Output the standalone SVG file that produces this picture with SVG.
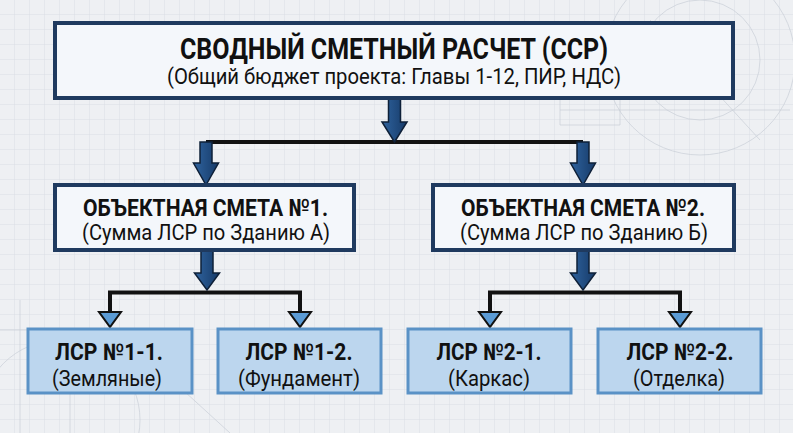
<svg xmlns="http://www.w3.org/2000/svg" width="793" height="433" viewBox="0 0 793 433">
<defs>
<pattern id="grid" width="15" height="15" patternUnits="userSpaceOnUse">
<path d="M15 0 V15 M0 15 H15" fill="none" stroke="#dadee4" stroke-width="1"/>
</pattern>
<linearGradient id="ag" x1="0" y1="0" x2="1" y2="0">
<stop offset="0" stop-color="#2f639e"/>
<stop offset="1" stop-color="#163a68"/>
</linearGradient>
<style>
.bg{fill:#eef0f3}
.main{fill:#f4f7fb;stroke:#1f3a5f;stroke-width:4}
.leaf{fill:#bcd6ee;stroke:#5a92c6;stroke-width:3}
.big{fill:url(#ag);stroke:#0e2038;stroke-width:1.5;stroke-linejoin:miter}
.line{fill:none;stroke:#111;stroke-width:4;stroke-linejoin:miter}
.tri{fill:#5b9bd5;stroke:#111;stroke-width:2;stroke-linejoin:miter}
.deco{fill:none;stroke:#c9cfd7;stroke-width:1;opacity:0.7}
text{font-family:Roboto,"Noto Sans","DejaVu Sans",sans-serif;fill:#111;text-anchor:middle}
.h1{font-size:29px;font-weight:700}
.h2{font-size:22px;font-weight:400}
.m1{font-size:24px;font-weight:700}
.m2{font-size:22px;font-weight:400}
.l1{font-size:23px;font-weight:700}
.l2{font-size:22px;font-weight:400}
</style>
</defs>
<rect class="bg" x="0" y="0" width="793" height="433"/>
<rect x="0" y="0" width="793" height="433" fill="url(#grid)"/>
<g id="decor">
<circle class="deco" cx="700" cy="60" r="95"/>
<circle class="deco" cx="700" cy="60" r="60"/>
<path class="deco" d="M560 110 H790 M560 95 V125 H620 V95 M650 20 L760 140"/>
<circle class="deco" cx="60" cy="420" r="80"/>
<path class="deco" d="M0 330 H130 M20 300 V433 M70 340 V433 M150 360 L230 433"/>
</g>
<g id="connectors">
<path class="line" d="M206 142 H583"/>
<path class="line" d="M110 312 V292.5 H300 V312"/>
<path class="line" d="M490 312 V292.5 H680 V312"/>
<path class="big" d="M388.5 98 H400.5 V122 H407 L394.5 142 L382 122 H388.5 Z"/>
<path class="big" d="M200 142 H212 V163 H218.5 L206 185 L193.5 163 H200 Z"/>
<path class="big" d="M577 142 H589 V163 H595.5 L583 185 L570.5 163 H577 Z"/>
<path class="big" d="M201 250 H213 V273 H219.5 L207 290 L194.5 273 H201 Z"/>
<path class="big" d="M577 250 H589 V273 H595.5 L583 290 L570.5 273 H577 Z"/>
<path class="tri" d="M99 312 H121 L110 327 Z"/>
<path class="tri" d="M289 312 H311 L300 327 Z"/>
<path class="tri" d="M479 312 H501 L490 327 Z"/>
<path class="tri" d="M669 312 H691 L680 327 Z"/>
</g>
<g id="ssr">
<rect class="main" x="55" y="23" width="678" height="75"/>
<text class="h1" x="394" y="59" textLength="428" lengthAdjust="spacingAndGlyphs">СВОДНЫЙ СМЕТНЫЙ РАСЧЕТ (ССР)</text>
<text class="h2" x="394" y="84" textLength="454" lengthAdjust="spacingAndGlyphs">(Общий бюджет проекта: Главы 1-12, ПИР, НДС)</text>
</g>
<g id="os1">
<rect class="main" x="55" y="185" width="299" height="65"/>
<text class="m1" x="205.5" y="216" textLength="245" lengthAdjust="spacingAndGlyphs">ОБЪЕКТНАЯ СМЕТА №1.</text>
<text class="m2" x="206" y="240" textLength="248" lengthAdjust="spacingAndGlyphs">(Сумма ЛСР по Зданию А)</text>
</g>
<g id="os2">
<rect class="main" x="433" y="185" width="301" height="65"/>
<text class="m1" x="583" y="216" textLength="244" lengthAdjust="spacingAndGlyphs">ОБЪЕКТНАЯ СМЕТА №2.</text>
<text class="m2" x="584" y="240" textLength="248" lengthAdjust="spacingAndGlyphs">(Сумма ЛСР по Зданию Б)</text>
</g>
<g id="lsr11">
<rect class="leaf" x="28" y="329" width="164" height="64"/>
<text class="l1" x="109" y="360" textLength="108" lengthAdjust="spacingAndGlyphs">ЛСР №1-1.</text>
<text class="l2" x="107" y="386" textLength="110" lengthAdjust="spacingAndGlyphs">(Земляные)</text>
</g>
<g id="lsr12">
<rect class="leaf" x="218" y="329" width="163" height="64"/>
<text class="l1" x="299" y="360" textLength="107" lengthAdjust="spacingAndGlyphs">ЛСР №1-2.</text>
<text class="l2" x="299" y="386" textLength="122" lengthAdjust="spacingAndGlyphs">(Фундамент)</text>
</g>
<g id="lsr21">
<rect class="leaf" x="408" y="329" width="163" height="64"/>
<text class="l1" x="489" y="360" textLength="105" lengthAdjust="spacingAndGlyphs">ЛСР №2-1.</text>
<text class="l2" x="489" y="386" textLength="82" lengthAdjust="spacingAndGlyphs">(Каркас)</text>
</g>
<g id="lsr22">
<rect class="leaf" x="598" y="329" width="163" height="64"/>
<text class="l1" x="680" y="360" textLength="107" lengthAdjust="spacingAndGlyphs">ЛСР №2-2.</text>
<text class="l2" x="679" y="386" textLength="92" lengthAdjust="spacingAndGlyphs">(Отделка)</text>
</g>
</svg>
